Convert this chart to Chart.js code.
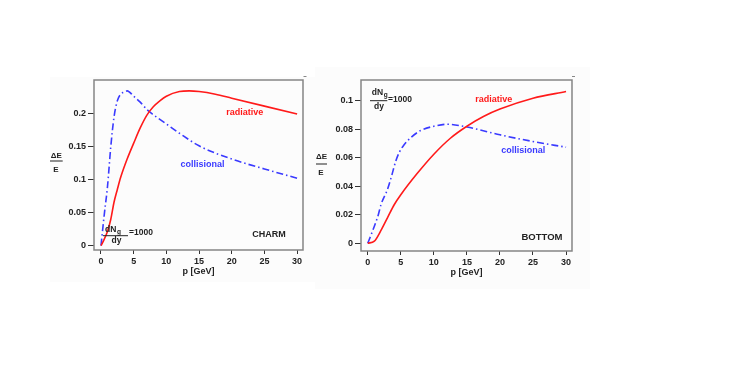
<!DOCTYPE html>
<html>
<head>
<meta charset="utf-8">
<script src="https://cdn.jsdelivr.net/npm/chart.js@4.4.0/dist/chart.umd.min.js"></script>
<style>
body { margin: 0; background: #fff; width: 756px; height: 366px; position: relative; overflow: hidden; }
.panel { position: absolute; background: #fcfcfc; }
canvas { position: absolute; }
</style>
</head>
<body>
<div class="panel" style="left:50px;top:77px;width:268px;height:205px"></div>
<div class="panel" style="left:315px;top:67px;width:275px;height:222px"></div>
<canvas id="charm" width="280" height="215" style="left:40px;top:70px;width:280px;height:215px"></canvas>
<canvas id="bottom" width="290" height="230" style="left:305px;top:60px;width:290px;height:230px"></canvas>
<script>
// values
const xTicks = [0, 5, 10, 15, 20, 25, 30];
const charmYTicks = [0, 0.05, 0.1, 0.15, 0.2];
const bottomYTicks = [0, 0.02, 0.04, 0.06, 0.08, 0.1];

// CHARM
const charmRadP = [0, 0.5, 1, 1.5, 2, 2.5, 3, 4, 5, 6, 7, 8, 9, 10, 12, 13.5, 15, 17.5, 20, 25, 30];
const charmRad  = [0, 0.01, 0.022, 0.04, 0.066, 0.085, 0.103, 0.131, 0.155, 0.178, 0.197, 0.21, 0.219, 0.226, 0.233, 0.234, 0.233, 0.229, 0.223, 0.211, 0.199];
const charmColP = [0, 0.5, 1, 1.5, 2, 2.5, 3, 3.5, 4, 5, 6, 7, 8, 9, 10, 12, 15, 20, 25, 30];
const charmCol  = [0, 0.047, 0.09, 0.15, 0.195, 0.219, 0.229, 0.232, 0.234, 0.226, 0.217, 0.206, 0.198, 0.191, 0.184, 0.170, 0.151, 0.131, 0.116, 0.102];

// BOTTOM
const bottomRadP = [0, 1, 2, 3, 4, 5, 7.5, 10, 12.5, 15, 17.5, 20, 25, 30];
const bottomRad  = [0, 0.0015, 0.009, 0.018, 0.027, 0.034, 0.049, 0.0624, 0.0736, 0.082, 0.0888, 0.094, 0.1016, 0.1063];
const bottomColP = [0, 0.6, 1, 1.6, 2, 3, 3.6, 4.2, 4.8, 5.5, 6.5, 8, 10, 12, 15, 20, 25, 30];
const bottomCol  = [0, 0.007, 0.012, 0.02, 0.027, 0.038, 0.047, 0.057, 0.064, 0.069, 0.074, 0.079, 0.082, 0.0834, 0.0815, 0.076, 0.0713, 0.0673];

const FONT = '"Liberation Sans", Arial, sans-serif';
const RED = '#ff1a1a';
const BLUE = '#3a3aff';

function pts(xs, ys) {
  return xs.map((x, i) => ({ x: x, y: ys[i] }));
}

// text, fraction labels and frame, drawn in page coordinates
function notes(offX, offY, items) {
  return {
    id: 'notes',
    afterDraw(chart) {
      const ctx = chart.ctx;
      const a = chart.chartArea;
      ctx.save();
      ctx.strokeStyle = '#858585';
      ctx.lineWidth = 1.5;
      ctx.strokeRect(a.left, a.top, a.right - a.left, a.bottom - a.top);
      ctx.translate(-offX, -offY);
      items.forEach(t => {
        if (t.line) {
          ctx.beginPath();
          ctx.strokeStyle = t.color || '#222';
          ctx.lineWidth = t.w || 1;
          ctx.moveTo(t.line[0], t.line[2]);
          ctx.lineTo(t.line[1], t.line[2]);
          ctx.stroke();
          return;
        }
        ctx.font = 'bold ' + (t.size || 9) + 'px ' + FONT;
        ctx.fillStyle = t.color || '#222';
        ctx.textAlign = t.align || 'center';
        ctx.textBaseline = 'middle';
        ctx.fillText(t.text, t.x, t.y);
      });
      ctx.restore();
    }
  };
}

function makeChart(id, radP, rad, colP, col, yTicks, xr, yr, pad, yw, xh, titlePad, plugin) {
  return new Chart(document.getElementById(id), {
    type: 'line',
    data: {
      datasets: [
        { data: pts(radP, rad), borderColor: RED, borderWidth: 1.6, pointRadius: 0, cubicInterpolationMode: 'monotone', fill: false },
        { data: pts(colP, col), borderColor: BLUE, borderWidth: 1.6, borderDash: [7, 3, 1.5, 3], pointRadius: 0, cubicInterpolationMode: 'monotone', fill: false }
      ]
    },
    options: {
      responsive: false,
      animation: false,
      events: [],
      layout: { padding: pad },
      plugins: { legend: { display: false }, tooltip: { enabled: false } },
      scales: {
        x: {
          type: 'linear', min: xr[0], max: xr[1],
          afterBuildTicks: s => { s.ticks = xTicks.map(v => ({ value: v })); },
          afterFit: s => { s.height = xh; },
          grid: { drawOnChartArea: false, tickLength: 4, color: '#333', lineWidth: 1 },
          border: { display: false },
          ticks: { padding: 2, color: '#222', font: { family: FONT, size: 9, weight: 'bold' }, maxRotation: 0, callback: v => String(v) },
          title: { display: true, text: 'p [GeV]', color: '#222', font: { family: FONT, size: 9, weight: 'bold' }, padding: { top: 0, bottom: titlePad } }
        },
        y: {
          type: 'linear', min: yr[0], max: yr[1],
          afterBuildTicks: s => { s.ticks = yTicks.map(v => ({ value: v })); },
          afterFit: s => { s.width = yw; },
          grid: { drawOnChartArea: false, tickLength: 6, color: '#333', lineWidth: 1 },
          border: { display: false },
          ticks: { padding: 2, color: '#222', font: { family: FONT, size: 9, weight: 'bold' }, callback: v => String(v) }
        }
      }
    },
    plugins: [plugin]
  });
}

makeChart('charm', charmRadP, charmRad, charmColP, charmCol, charmYTicks,
  [-1.07, 30.9], [-0.0065, 0.2505],
  { left: 0, top: 10, right: 17, bottom: 0 }, 54, 35, 8,
  notes(40, 70, [
    { text: 'radiative', x: 244.7, y: 112.3, color: RED },
    { text: 'collisional', x: 202.5, y: 165, color: BLUE },
    { text: 'CHARM', x: 269, y: 235 },
    { text: 'ΔE', x: 56.3, y: 155.5, size: 8 },
    { line: [50, 62.7, 161] },
    { text: 'E', x: 56, y: 169.5, size: 8 },
    { text: 'dN', x: 105, y: 229.5, align: 'left', size: 8.5 },
    { text: 'g', x: 117, y: 232.5, align: 'left', size: 6.5 },
    { line: [103, 128, 235.7] },
    { text: 'dy', x: 116.5, y: 241, size: 8.5 },
    { text: '=1000', x: 129, y: 232.5, align: 'left', size: 8.5 },
    { line: [303.5, 306.5, 76.5], color: '#888' }
  ]));

makeChart('bottom', bottomRadP, bottomRad, bottomColP, bottomCol, bottomYTicks,
  [-1.02, 30.9], [-0.0054, 0.1144],
  { left: 0, top: 20, right: 23, bottom: 0 }, 56, 39, 12,
  notes(305, 60, [
    { text: 'radiative', x: 493.8, y: 99.3, color: RED },
    { text: 'collisional', x: 523.3, y: 150.7, color: BLUE },
    { text: 'BOTTOM', x: 542, y: 237.8, size: 9.5 },
    { text: 'ΔE', x: 321.5, y: 156.5, size: 8 },
    { line: [316, 327, 164] },
    { text: 'E', x: 321, y: 173, size: 8 },
    { text: 'dN', x: 371.7, y: 92.5, align: 'left', size: 8.5 },
    { text: 'g', x: 383.7, y: 95.5, align: 'left', size: 6.5 },
    { line: [370, 387.3, 100.7] },
    { text: 'dy', x: 379, y: 107, size: 8.5 },
    { text: '=1000', x: 388, y: 99.5, align: 'left', size: 8.5 },
    { line: [572, 575, 76.5], color: '#888' }
  ]));
</script>
</body>
</html>
